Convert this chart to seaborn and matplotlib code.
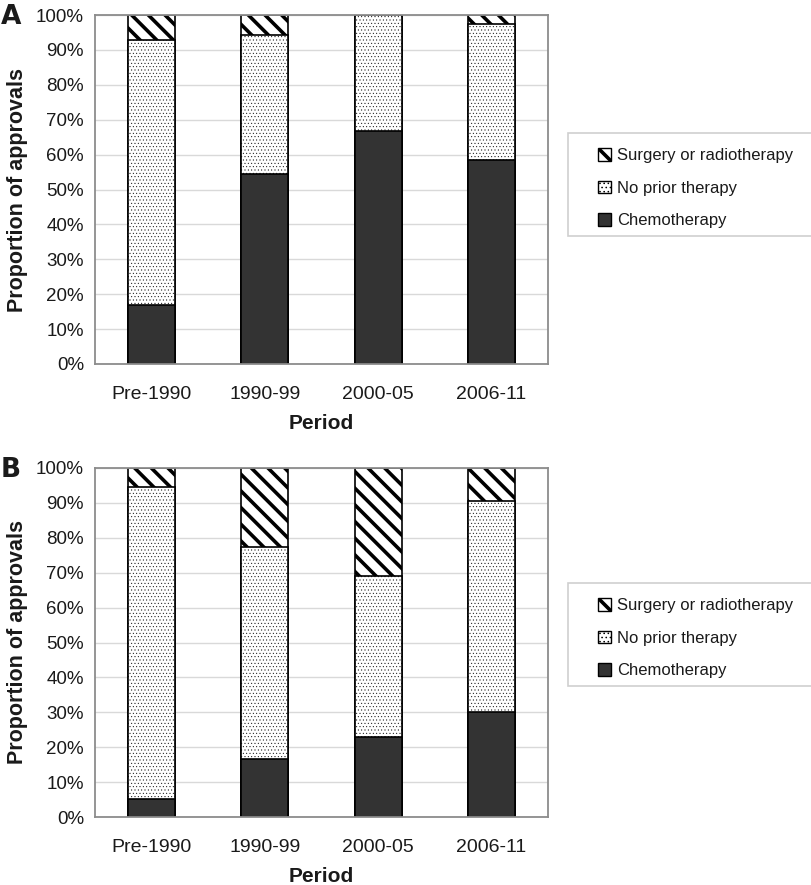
import numpy as np
import pandas as pd
import matplotlib
matplotlib.use("Agg")
import matplotlib.pyplot as plt
from matplotlib.patches import Patch, Rectangle
import seaborn as sns

periods = ["Pre-1990", "1990-99", "2000-05", "2006-11"]

# panel A (percent of approvals)
a_chemo = [17.0, 54.5, 66.8, 58.5]
a_noprior = [75.7, 39.7, 33.2, 38.9]
a_surgery = [7.3, 5.8, 0.0, 2.6]

# panel B
b_chemo = [5.2, 16.6, 23.0, 30.2]
b_noprior = [89.3, 60.9, 46.1, 60.3]
b_surgery = [5.5, 22.5, 30.9, 9.5]

series_names = ["Surgery or radiotherapy", "No prior therapy", "Chemotherapy"]

sns.set_style("white")
plt.rcParams["font.family"] = ["Liberation Sans", "DejaVu Sans"]
plt.rcParams["hatch.linewidth"] = 2.6

W, H = 812, 885
fig = plt.figure(figsize=(W / 100, H / 100), dpi=100)

TXT = "#1a1a1a"
GRID = "#d9d9d9"
SPINE = "#8c8c8c"
STRIPES = "\\" * 2
DOTS = "....."


def fx(px):
    return px / W


def fy(py):
    return 1 - py / H


def thin_hatch(p, lw=0.3):
    if hasattr(p, "set_hatch_linewidth"):
        p.set_hatch_linewidth(lw)


def draw_panel(ax, chemo, noprior, surgery):
    df = pd.DataFrame({
        "period": periods,
        "chemo": chemo,
        "noprior": noprior,
        "surgery": surgery,
    })
    df["lvl2"] = df["chemo"] + df["noprior"]
    df["lvl3"] = df["lvl2"] + df["surgery"]

    ax.set_axisbelow(True)
    ax.yaxis.grid(True, color=GRID, linewidth=1)

    w = 0.415
    # stacked look: draw cumulative totals back to front
    sns.barplot(data=df, x="period", y="lvl3", ax=ax, color="white",
                edgecolor="black", linewidth=1.2, width=w)
    sns.barplot(data=df, x="period", y="lvl2", ax=ax, color="white",
                edgecolor="black", linewidth=1.2, width=w)
    sns.barplot(data=df, x="period", y="chemo", ax=ax, color="#333333",
                edgecolor="black", linewidth=1.2, width=w)

    n = len(periods)
    bars = ax.patches
    for p in bars[:n]:
        p.set_hatch(STRIPES)
    for p in bars[n:2 * n]:
        p.set_hatch(DOTS)
        thin_hatch(p)

    ax.set_ylim(0, 100)
    ax.set_xlim(-0.5, n - 0.5)
    ax.set_yticks(np.arange(0, 101, 10))
    ax.set_yticklabels([f"{v}%" for v in range(0, 101, 10)])
    ax.set_xticks(range(n))
    ax.set_xticklabels(periods)
    ax.set_xticks(np.arange(-0.5, n, 1.0), minor=True)
    ax.tick_params(axis="x", which="major", length=0, labelsize=14,
                   labelcolor=TXT, pad=16)
    ax.tick_params(axis="x", which="minor", length=5, color=SPINE,
                   direction="out", width=1)
    ax.tick_params(axis="y", length=5, color=SPINE, direction="out",
                   labelsize=13.5, labelcolor=TXT, pad=3, width=1)
    ax.set_xlabel("Period", fontsize=15, fontweight="bold", color=TXT,
                  labelpad=8)
    ax.set_ylabel("Proportion of approvals", fontsize=15.5, fontweight="bold",
                  color=TXT, labelpad=6)
    for s in ax.spines.values():
        s.set_visible(True)
        s.set_color(SPINE)
        s.set_linewidth(1.3)


ax_a = fig.add_axes([fx(95), fy(364), fx(548) - fx(95), fy(15) - fy(364)])
ax_b = fig.add_axes([fx(95), fy(817), fx(548) - fx(95), fy(468) - fy(817)])
draw_panel(ax_a, a_chemo, a_noprior, a_surgery)
draw_panel(ax_b, b_chemo, b_noprior, b_surgery)

fig.text(fx(1), fy(17), "A", fontsize=19, fontweight="bold", color=TXT,
         va="center", ha="left", family="DejaVu Sans")
fig.text(fx(1), fy(470), "B", fontsize=19, fontweight="bold", color=TXT,
         va="center", ha="left", family="DejaVu Sans")


def legend_handles():
    h1 = Patch(facecolor="white", edgecolor="black", hatch=STRIPES, linewidth=1)
    h2 = Patch(facecolor="white", edgecolor="black", hatch="....", linewidth=1)
    h3 = Patch(facecolor="#333333", edgecolor="black", linewidth=1)
    return [h1, h2, h3]


for top in (133, 583):
    fig.patches.append(Rectangle((fx(568), fy(top + 103)), fx(812 - 568 + 5),
                                 103 / H, transform=fig.transFigure,
                                 facecolor="white", edgecolor="#cfcfcf",
                                 linewidth=1.2))
    leg = fig.legend(legend_handles(), series_names, loc="upper left",
                     bbox_to_anchor=(fx(585), fy(top + 2)), frameon=False,
                     fontsize=12, handlelength=0.75, handleheight=0.75,
                     handletextpad=0.35, labelspacing=1.05, borderpad=0.3,
                     labelcolor=TXT)
    thin_hatch(leg.get_patches()[1], 0.6)

fig.savefig("out.png", dpi=100)
